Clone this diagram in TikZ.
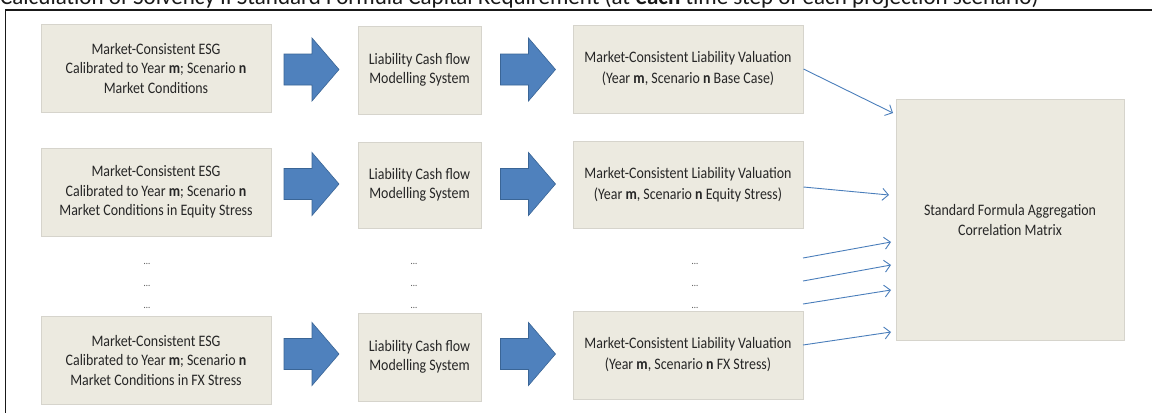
\documentclass[tikz,border=0pt]{standalone}
\usepackage{fontspec}
\setmainfont{Carlito}
\newfontfamily\boxfont[FakeStretch=0.87]{Carlito}
\usetikzlibrary{arrows.meta}
\definecolor{boxfill}{HTML}{ECEAE0}
\definecolor{boxline}{HTML}{D6D4CC}
\definecolor{arrblue}{HTML}{4F81BD}
\definecolor{arredge}{HTML}{3A6596}
\definecolor{lineblue}{HTML}{4A7EBB}
\begin{document}
\begin{tikzpicture}[x=1pt,y=-1pt,
 panel/.style={draw=boxline, line width=1pt, fill=boxfill, inner sep=0pt, align=center,
   font=\boxfont\fontsize{16}{19.5}\selectfont, text=black!85},
 valfont/.style={font=\boxfont\fontsize{16}{21}\selectfont},
 feed/.style={draw=lineblue, line width=0.9pt, -{Straight Barb[length=6pt,width=12pt]}},
 dotsnode/.style={font=\boxfont\fontsize{10}{10}\selectfont, text=black!70, inner sep=0pt},
 blockarrow/.pic={\draw[fill=arrblue, draw=arredge, line width=0.6pt]
   (-27.5,-15.5) -- (0.5,-15.5) -- (0.5,-31.5) -- (27.5,0) -- (0.5,31.5) -- (0.5,15.5) -- (-27.5,15.5) -- cycle;}
]
\useasboundingbox (0,0) rectangle (1152,413);
\clip (0,0) rectangle (1152,413);
\fill[white] (0,0) rectangle (1152,413);

% title (cut off at the top, as in the reference)
\node[anchor=base west, inner sep=0pt, font=\fontsize{23}{24}\selectfont, text=black!90] (title) at (0,4.5)
  {Calculation of Solvency II Standard Formula Capital Requirement (at \textbf{each} time step of each projection scenario)};
% frame
\draw[line width=1.5pt, black!90] (1152,10) -- (5.5,10) -- (5.5,413);

% column 1
\node[panel, minimum width=230pt, minimum height=88pt] (esg1) at (156,68)
  {Market-Consistent ESG\\Calibrated to Year \textbf{m}; Scenario \textbf{n}\\Market Conditions};
\node[panel, minimum width=230pt, minimum height=88pt] (esg2) at (156,192)
  {Market-Consistent ESG\\Calibrated to Year \textbf{m}; Scenario \textbf{n}\\Market Conditions in Equity Stress};
\node[panel, minimum width=230pt, minimum height=88pt] (esg3) at (156,360)
  {Market-Consistent ESG\\Calibrated to Year \textbf{m}; Scenario \textbf{n}\\Market Conditions in FX Stress};

% column 2
\node[panel, minimum width=123pt, minimum height=88pt] (liab1) at (419.5,70)
  {Liability Cash flow\\Modelling System};
\node[panel, minimum width=123pt, minimum height=86pt] (liab2) at (419.5,185)
  {Liability Cash flow\\Modelling System};
\node[panel, minimum width=123pt, minimum height=88pt] (liab3) at (419.5,357)
  {Liability Cash flow\\Modelling System};

% column 3
\node[panel, valfont, minimum width=230pt, minimum height=88pt] (val1) at (688,69)
  {Market-Consistent Liability Valuation\\(Year \textbf{m}, Scenario \textbf{n} Base Case)};
\node[panel, valfont, minimum width=230pt, minimum height=87pt] (val2) at (688,184.5)
  {Market-Consistent Liability Valuation\\(Year \textbf{m}, Scenario \textbf{n} Equity Stress)};
\node[panel, valfont, minimum width=230pt, minimum height=88pt] (val3) at (688,355)
  {Market-Consistent Liability Valuation\\(Year \textbf{m}, Scenario \textbf{n} FX Stress)};

% aggregation
\node[panel, minimum width=228pt, minimum height=241pt, font=\boxfont\fontsize{16}{20}\selectfont] (agg) at (1010,220)
  {Standard Formula Aggregation\\Correlation Matrix};

% dots
\foreach \c/\x in {a/147,b/414,c/695}{
  \node[dotsnode] (dots\c1) at (\x,264) {...};
  \node[dotsnode] (dots\c2) at (\x,286) {...};
  \node[dotsnode] (dots\c3) at (\x,308) {...};
}

% block arrows
\pic at (311.5,69.5) {blockarrow};
\pic at (528,69.5) {blockarrow};
\pic at (311.5,184) {blockarrow};
\pic at (528,184) {blockarrow};
\pic at (311.5,354) {blockarrow};
\pic at (528,354) {blockarrow};

% feed connectors
\coordinate (s3) at (803,258);
\coordinate (s4) at (803,281);
\coordinate (s5) at (803,304);
\coordinate (s6) at (803,345);
\coordinate (e1) at (893,113);
\coordinate (e2) at (889,195);
\coordinate (e3) at (891,242);
\coordinate (e4) at (891,265);
\coordinate (e5) at (891,290);
\coordinate (e6) at (891,332);
\draw[feed] (val1.east) -- (e1);
\draw[feed] ([yshift=-2.5pt]val2.east) -- (e2);
\draw[feed] (s3) -- (e3);
\draw[feed] (s4) -- (e4);
\draw[feed] (s5) -- (e5);
\draw[feed] (s6) -- (e6);
\end{tikzpicture}
\end{document}
